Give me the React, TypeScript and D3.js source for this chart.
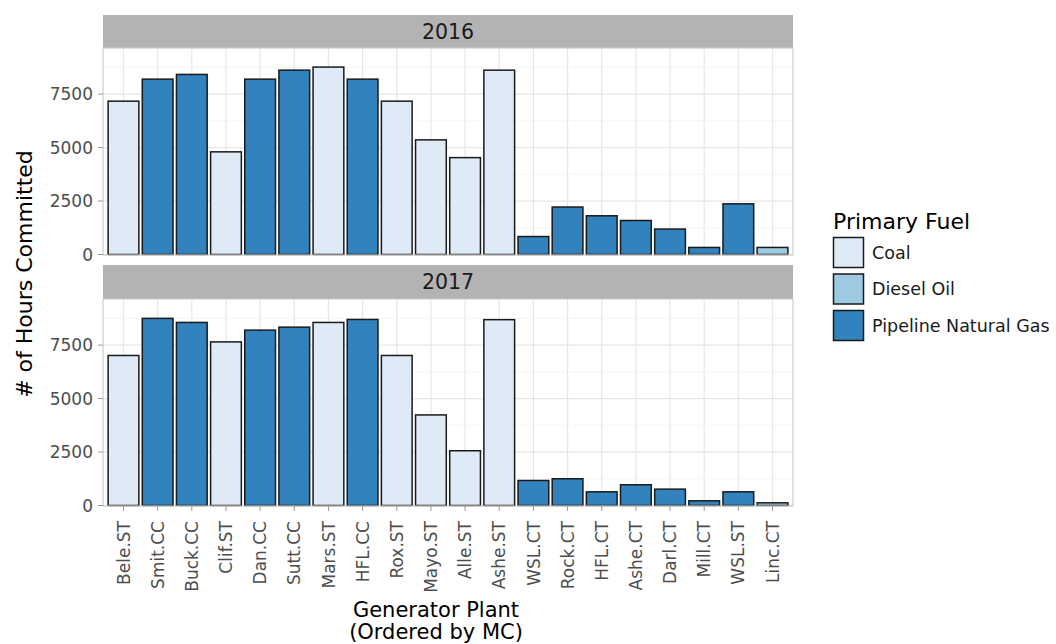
import React from "react";
import * as d3 from "d3";

const plants = ["Bele.ST","Smit.CC","Buck.CC","Clif.ST","Dan.CC","Sutt.CC","Mars.ST","HFL.CC","Rox.ST","Mayo.ST","Alle.ST","Ashe.ST","WSL.CT","Rock.CT","HFL.CT","Ashe.CT","Darl.CT","Mill.CT","WSL.ST","Linc.CT"];
const fuels = ["Coal","Pipeline Natural Gas","Pipeline Natural Gas","Coal","Pipeline Natural Gas","Pipeline Natural Gas","Coal","Pipeline Natural Gas","Coal","Coal","Coal","Coal","Pipeline Natural Gas","Pipeline Natural Gas","Pipeline Natural Gas","Pipeline Natural Gas","Pipeline Natural Gas","Pipeline Natural Gas","Pipeline Natural Gas","Diesel Oil"];
const hours2016 = [7170,8200,8420,4800,8200,8620,8765,8200,7170,5360,4530,8620,840,2220,1810,1590,1190,330,2370,330];
const hours2017 = [7015,8750,8560,7650,8200,8340,8560,8700,7015,4235,2560,8690,1170,1250,640,970,765,220,640,125];
const years = ["2016","2017"];
const fuelNames = ["Coal","Diesel Oil","Pipeline Natural Gas"];
const fuelColors = ["#deebf7","#9ecae1","#3182bd"];
const yTicks = [0,2500,5000,7500];
const yMinor = [1250,3750,6250,8750];

const FONT = "'DejaVu Sans', sans-serif";

export default function App() {
  const W = 1056, H = 644;
  const left = 103, right = 793;
  const x = d3.scalePoint<string>().domain(plants).range([left, right]).padding(0.6);
  const bw = x.step() * 0.9;
  const color = d3.scaleOrdinal<string, string>().domain(fuelNames).range(fuelColors);
  const panels = [
    { year: years[0], values: hours2016, stripTop: 15, top: 48, bottom: 255, zero: 254.5 },
    { year: years[1], values: hours2017, stripTop: 265, top: 299, bottom: 506, zero: 505.5 },
  ];
  return (
    <svg width={W} height={H} style={{ position: "absolute", left: 0, top: 0, background: "#fff" }} fontFamily={FONT}>
      {panels.map((p, pi) => {
        const y = d3.scaleLinear().domain([0, 9656]).range([p.zero, p.top]);
        return (
          <g key={pi}>
            <rect x={left} y={p.stripTop} width={right - left} height={p.top - p.stripTop} fill="#b3b3b3" />
            <text x={(left + right) / 2} y={(p.stripTop + p.top) / 2} dy="0.36em" textAnchor="middle" fontSize={20.5} fill="#1a1a1a">{p.year}</text>
            <rect x={left} y={p.top} width={right - left} height={p.bottom - p.top} fill="#fff" />
            {yMinor.map((t) => (
              <line key={"mn" + t} x1={left} x2={right} y1={y(t)} y2={y(t)} stroke="#f2f2f2" strokeWidth={0.8} />
            ))}
            {yTicks.map((t) => (
              <line key={"mj" + t} x1={left} x2={right} y1={y(t)} y2={y(t)} stroke="#e6e6e6" strokeWidth={1.2} />
            ))}
            {plants.map((pl) => (
              <line key={"v" + pl} x1={x(pl)} x2={x(pl)} y1={p.top} y2={p.bottom} stroke="#e6e6e6" strokeWidth={1.2} />
            ))}
            {plants.map((pl, i) => (
              <rect key={"b" + pl} x={(x(pl) as number) - bw / 2} y={y(p.values[i])} width={bw} height={y(0) - y(p.values[i])}
                fill={color(fuels[i])} stroke="#1a1a1a" strokeWidth={1.5} />
            ))}
            <rect x={left} y={p.top} width={right - left} height={p.bottom - p.top} fill="none" stroke="#cccccc" strokeWidth={1.2} />
            {yTicks.map((t) => (
              <g key={"yt" + t}>
                <line x1={left - 5} x2={left} y1={y(t)} y2={y(t)} stroke="#999" strokeWidth={1} />
                <text x={left - 10} y={y(t)} dy="0.36em" textAnchor="end" fontSize={17} fill="#4d4d4d">{t}</text>
              </g>
            ))}
            {pi === 1 && plants.map((pl) => (
              <g key={"xt" + pl}>
                <line x1={x(pl)} x2={x(pl)} y1={p.bottom} y2={p.bottom + 5} stroke="#999" strokeWidth={1} />
                <text transform={`translate(${x(pl)},${p.bottom + 15}) rotate(-90)`} dy="0.36em" textAnchor="end" fontSize={17} fill="#4d4d4d">{pl}</text>
              </g>
            ))}
          </g>
        );
      })}
      <text transform={`translate(32,274) rotate(-90)`} textAnchor="middle" fontSize={22} fill="#000"># of Hours Committed</text>
      <text x={(left + right) / 2 - 12} y={617} textAnchor="middle" fontSize={21} fill="#000">Generator Plant</text>
      <text x={(left + right) / 2 - 12} y={639} textAnchor="middle" fontSize={21} fill="#000">(Ordered by MC)</text>
      <text x={833} y={229} fontSize={22} fill="#000">Primary Fuel</text>
      {fuelNames.map((f, i) => (
        <g key={f}>
          <rect x={833.5} y={237.5 + i * 36.5} width={30} height={30} fill={color(f)} stroke="#1a1a1a" strokeWidth={1.5} />
          <text x={872} y={252.5 + i * 36.5} dy="0.36em" fontSize={17.5} fill="#1a1a1a">{f}</text>
        </g>
      ))}
    </svg>
  );
}
